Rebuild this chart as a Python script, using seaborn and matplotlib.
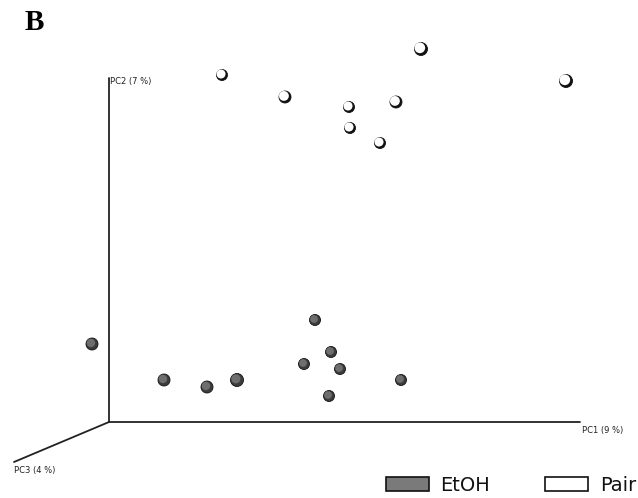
import numpy as np
import pandas as pd
import matplotlib
matplotlib.use('Agg')
import matplotlib.pyplot as plt
import seaborn as sns
from matplotlib.patches import Patch

# projected sample positions (screen coords of the 3D PCoA view)
pair_x = [222, 285, 349, 350, 380, 396, 421, 566]
pair_y = [75, 97, 107, 128, 143, 102, 49, 81]
pair_d = [11, 12, 11, 11, 11, 12, 13, 13]
etoh_x = [92, 164, 207, 237, 304, 315, 331, 340, 329, 401]
etoh_y = [344, 380, 387, 380, 364, 320, 352, 369, 396, 380]
etoh_d = [12, 12, 12, 13, 11, 11, 11, 11, 11, 11]

groups = ['EtOH', 'Pair']
axis_labels = ['PC1 (9 %)', 'PC2 (7 %)', 'PC3 (4 %)']
colors = {'EtOH': '#3c3c3c', 'Pair': '#111111'}
highlight = {'EtOH': '#6e6e6e', 'Pair': '#ffffff'}

df = pd.DataFrame({
    'x': pair_x + etoh_x,
    'y': pair_y + etoh_y,
    'd': pair_d + etoh_d,
    'group': ['Pair'] * len(pair_x) + ['EtOH'] * len(etoh_x),
})
df['area'] = (df['d'] * 0.72) ** 2

sns.set_style('white')
plt.rcParams['font.family'] = ['DejaVu Sans']

fig = plt.figure(figsize=(6.38, 4.98), dpi=100)
ax = fig.add_axes([0, 0, 1, 1])

# axes of the 3D box
ox, oy = 109, 422
ax.plot([ox, ox], [oy, 78], color='#222222', lw=1.3)
ax.plot([ox, 580], [oy, oy], color='#222222', lw=1.3)
ax.plot([ox, 14], [oy, 462], color='#222222', lw=1.3)
ax.text(582, 430, axis_labels[0], fontsize=6, ha='left', va='center', color='#222222')
ax.text(110, 81, axis_labels[1], fontsize=6, ha='left', va='center', color='#222222')
ax.text(14, 470, axis_labels[2], fontsize=6, ha='left', va='center', color='#222222')

sns.scatterplot(data=df, x='x', y='y', hue='group', palette=colors,
                size='area', sizes=(df['area'].min(), df['area'].max()),
                edgecolor='#111111', linewidth=0.6, legend=False, ax=ax, zorder=3)

# sphere highlight
hl = df.copy()
k = np.where(hl['group'] == 'Pair', 0.82, 0.7)
hl['x'] = hl['x'] - hl['d'] * 0.09
hl['y'] = hl['y'] - hl['d'] * 0.09
hl['area'] = (hl['d'] * 0.72 * k) ** 2
sns.scatterplot(data=hl, x='x', y='y', hue='group', palette=highlight,
                size='area', sizes=(hl['area'].min(), hl['area'].max()),
                linewidth=0, legend=False, ax=ax, zorder=4)
ax.set_xlim(0, 638)
ax.set_ylim(498, 0)
ax.axis('off')

fig.text(0.038, 0.955, 'B', fontsize=21, fontweight='bold', color='black',
         family='Liberation Serif', ha='left', va='center')

handles = [Patch(facecolor='#7a7a7a', edgecolor='#111111', lw=1.2),
           Patch(facecolor='white', edgecolor='#111111', lw=1.2)]
leg = fig.legend(handles, groups, loc='center', bbox_to_anchor=(0.801, 0.026), ncol=2,
                 frameon=False, fontsize=14, handlelength=2.2, handleheight=0.75,
                 handletextpad=0.6, columnspacing=2.85)
for t in leg.get_texts():
    t.set_color('#111111')

fig.savefig('out.png', dpi=100)
